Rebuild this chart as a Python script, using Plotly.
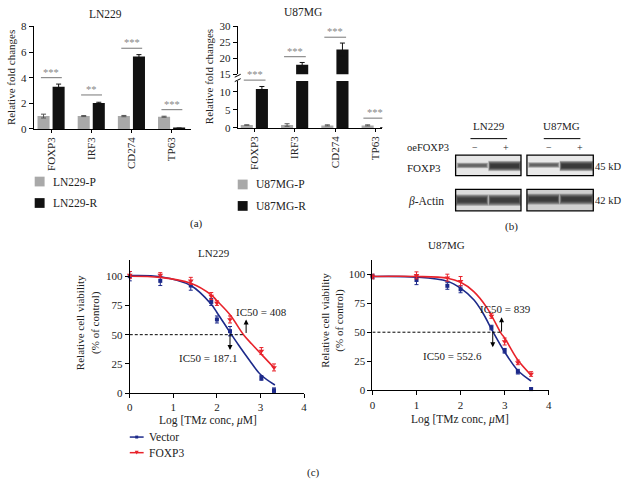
import plotly.graph_objects as go

W, H = 626, 485
FONT = "Liberation Serif"


def px(x):
    return x / W


def py(y):
    return 1 - y / H


# ---------------- Panel (a) data ----------------
genes = ["FOXP3", "IRF3", "CD274", "TP63"]
ln229_parental = [1.0, 1.0, 1.0, 0.95]
ln229_parental_err = [0.15, 0.04, 0.05, 0.04]
ln229_resistant = [3.3, 2.02, 5.65, 0.05]
ln229_resistant_err = [0.2, 0.06, 0.15, 0.02]
ln229_sig = ["***", "**", "***", "***"]
ln229_sig_y = [4.0, 2.65, 6.3, 1.5]

u87_parental = [0.8, 0.8, 0.7, 0.7]
u87_parental_err = [0.05, 0.35, 0.15, 0.15]
u87_resistant = [10.8, 18.0, 22.8, 0.0]
u87_resistant_err = [0.7, 0.7, 2.0, 0.0]
u87_sig = ["***", "***", "***", "***"]
u87_sig_px = [76, 52, 32, 115]

# ---------------- Panel (c) data ----------------
ln229_log_dose = [0, 0.7, 1.4, 1.87, 2.0, 2.3, 3.02, 3.31]
ln229_vector = [100, 96, 92, 78, 63, 53, 13, 2.5]
ln229_vector_err = [4, 4, 4, 3, 3, 4, 2, 2]
ln229_foxp3 = [101, 101, 96, 83, 77, 63, 36, 22]
ln229_foxp3_err = [3, 2, 3, 3, 2, 3, 3, 3]
ln229_vector_fit_x = [0, 0.7, 1.4, 1.87, 2.0, 2.3, 2.5, 2.75, 3.0, 3.33]
ln229_vector_fit = [100.5, 99.5, 92, 76, 69, 52, 41, 28, 16, 7]
ln229_foxp3_fit_x = [0, 0.7, 1.4, 1.87, 2.0, 2.3, 2.61, 2.8, 3.0, 3.33]
ln229_foxp3_fit = [100, 99, 94, 84, 79, 67, 50, 42, 34, 21]

u87_log_dose = [0, 1.0, 1.7, 2.0, 2.7, 3.0, 3.3, 3.6]
u87_vector = [98, 95, 90, 87, 54, 34, 16, 1]
u87_vector_err = [2, 4, 3, 3, 2, 2, 2, 1]
u87_foxp3 = [98, 99, 97, 94, 64, 42, 24, 14]
u87_foxp3_err = [2, 3, 3, 4, 2, 3, 2, 2]
u87_vector_fit_x = [0, 1.0, 1.7, 2.0, 2.3, 2.5, 2.74, 3.0, 3.3, 3.6]
u87_vector_fit = [98, 97.5, 94, 88, 78, 67, 50, 33, 17, 8]
u87_foxp3_fit_x = [0, 1.0, 1.7, 2.0, 2.3, 2.6, 2.92, 3.0, 3.3, 3.6]
u87_foxp3_fit = [98, 98, 96.5, 93, 85, 71, 49, 45, 26, 13]

GRAY = "#a9a9a9"
BLACK = "#111111"
BLUE = "#1d2a8a"
RED = "#e8232b"

fig = go.Figure()

# ---- bars LN229
fig.add_trace(go.Bar(x=genes, y=ln229_parental, xaxis="x", yaxis="y", width=0.3, offset=-0.345,
                     marker_color=GRAY, marker_line_width=0,
                     error_y=dict(type="data", array=ln229_parental_err, color="#555", thickness=1, width=2.5),
                     showlegend=False))
fig.add_trace(go.Bar(x=genes, y=ln229_resistant, xaxis="x", yaxis="y", width=0.3, offset=0.03,
                     marker_color=BLACK, marker_line_width=0,
                     error_y=dict(type="data", array=ln229_resistant_err, color=BLACK, thickness=1, width=2.5),
                     showlegend=False))

# ---- bars U87MG (broken axis: lower y2, upper y3)
for ax in ["y2", "y3"]:
    fig.add_trace(go.Bar(x=genes, y=u87_parental, xaxis="x2", yaxis=ax, width=0.3, offset=-0.345,
                         marker_color=GRAY, marker_line_width=0,
                         error_y=dict(type="data", array=u87_parental_err, color="#555", thickness=1, width=2.5),
                         showlegend=False))
    fig.add_trace(go.Bar(x=genes, y=u87_resistant, xaxis="x2", yaxis=ax, width=0.3, offset=0.03,
                         marker_color=BLACK, marker_line_width=0,
                         error_y=dict(type="data", array=u87_resistant_err, color=BLACK, thickness=1, width=2.5),
                         showlegend=False))


# ---- dose response
def add_curve(xa, ya, dose, vals, errs, fitx, fity, color, symbol, size):
    fig.add_trace(go.Scatter(x=fitx, y=fity, xaxis=xa, yaxis=ya, mode="lines",
                             line=dict(color=color, width=1.6, shape="spline", smoothing=1.0),
                             showlegend=False, cliponaxis=False))
    fig.add_trace(go.Scatter(x=dose, y=vals, xaxis=xa, yaxis=ya, mode="markers",
                             marker=dict(color=color, symbol=symbol, size=size),
                             error_y=dict(type="data", array=errs, color=color, thickness=1, width=2),
                             showlegend=False, cliponaxis=False))


add_curve("x3", "y4", ln229_log_dose, ln229_vector, ln229_vector_err, ln229_vector_fit_x, ln229_vector_fit, BLUE, "square", 4)
add_curve("x3", "y4", ln229_log_dose, ln229_foxp3, ln229_foxp3_err, ln229_foxp3_fit_x, ln229_foxp3_fit, RED, "triangle-down", 5)
add_curve("x4", "y5", u87_log_dose, u87_vector, u87_vector_err, u87_vector_fit_x, u87_vector_fit, BLUE, "square", 4)
add_curve("x4", "y5", u87_log_dose, u87_foxp3, u87_foxp3_err, u87_foxp3_fit_x, u87_foxp3_fit, RED, "triangle-down", 5)

axis_common = dict(showline=True, linecolor="black", linewidth=1.1, ticks="outside", ticklen=4,
                   tickcolor="black", tickwidth=1, showgrid=False, zeroline=False,
                   tickfont=dict(family=FONT, size=11, color="#222"))

layout = dict(
    width=W, height=H, margin=dict(l=0, r=0, t=0, b=0),
    paper_bgcolor="white", plot_bgcolor="rgba(0,0,0,0)",
    barmode="overlay", font=dict(family=FONT, color="#222"),
    showlegend=False,
    xaxis=dict(axis_common, domain=[px(31), px(190)], anchor="y", type="category",
               range=[-0.44, 3.48], tickangle=-90, ticklen=3),
    yaxis=dict(axis_common, domain=[py(126), py(21)], anchor="x", range=[0, 8], tickvals=[0, 2, 4, 6, 8]),
    xaxis2=dict(axis_common, domain=[px(237), px(383)], anchor="y2", type="category",
                range=[-0.42, 3.17], tickangle=-90, ticklen=3),
    yaxis2=dict(axis_common, domain=[py(125), py(77)], anchor="x2", range=[0, 13], tickvals=[0, 5, 10]),
    yaxis3=dict(axis_common, domain=[py(70), py(21)], anchor="x2", range=[15, 30], tickvals=[15, 20, 25, 30]),
    xaxis3=dict(axis_common, domain=[px(128), px(304)], anchor="y4", range=[0, 4], tickvals=[0, 1, 2, 3, 4]),
    yaxis4=dict(axis_common, domain=[py(397), py(260)], anchor="x3", range=[0, 114.2],
                tickvals=[0, 25, 50, 75, 100]),
    xaxis4=dict(axis_common, domain=[px(373), px(551)], anchor="y5", range=[0, 4], tickvals=[0, 1, 2, 3, 4]),
    yaxis5=dict(axis_common, domain=[py(394), py(260)], anchor="x4", range=[0, 112.6],
                tickvals=[0, 25, 50, 75, 100]),
)

shapes = []
annotations = []


def text(x, y, s, size=11, color="#222", angle=0, xanchor="center", xref="paper", yref="paper"):
    annotations.append(dict(x=x, y=y, xref=xref, yref=yref, text=s, showarrow=False,
                            font=dict(family=FONT, size=size, color=color), textangle=angle,
                            xanchor=xanchor, yanchor="middle", borderpad=0))


# ---- Panel (a) titles / labels
text(px(103), py(8), "LN229", 11.5)
text(px(303), py(6), "U87MG", 11.5)
text(px(8), py(73), "Relative fold changes", 11, angle=-90)
text(px(208), py(73), "Relative fold changes", 11, angle=-90)

# significance LN229
for i, (s, yv) in enumerate(zip(ln229_sig, ln229_sig_y)):
    shapes.append(dict(type="line", xref="x", yref="y", x0=i - 0.26, x1=i + 0.26, y0=yv, y1=yv,
                       line=dict(color="#777", width=1)))
    annotations.append(dict(x=i, y=yv, xref="x", yref="y", text=s, showarrow=False, yanchor="bottom",
                            yshift=-2, font=dict(family=FONT, size=10.5, color="#888")))
# significance U87MG (positions in pixels because of broken axis)
for i, (s, ypx) in enumerate(zip(u87_sig, u87_sig_px)):
    half = 0.3 if i == 3 else 0.27
    shapes.append(dict(type="line", xref="x2", yref="paper", x0=i - half, x1=i + half,
                       y0=py(ypx), y1=py(ypx), line=dict(color="#777", width=1)))
    annotations.append(dict(x=i, y=py(ypx), xref="x2", yref="paper", text=s, showarrow=False,
                            yanchor="bottom", yshift=-2, font=dict(family=FONT, size=10.5, color="#888")))
# axis break marks
for ypx in [71.5, 76]:
    shapes.append(dict(type="line", xref="paper", yref="paper", x0=px(234), x1=px(240),
                       y0=py(ypx + 1.5), y1=py(ypx - 1.5), line=dict(color="black", width=1)))

# legends panel (a)
for (x0, y0, col, lab) in [(32, 175, GRAY, "LN229-P"), (32, 197, BLACK, "LN229-R"),
                           (237, 178, GRAY, "U87MG-P"), (237, 200, BLACK, "U87MG-R")]:
    shapes.append(dict(type="rect", xref="paper", yref="paper", x0=px(x0), x1=px(x0 + 10),
                       y0=py(y0 + 10), y1=py(y0), fillcolor=col, line=dict(width=0)))
    text(px(x0 + 17), py(y0 + 5), lab, 11.5, xanchor="left")
text(px(195), py(223), "(a)", 11)

# ---- Panel (b) western blot
text(px(491), py(123), "LN229", 11)
text(px(564), py(123), "U87MG", 11)
shapes.append(dict(type="line", xref="paper", yref="paper", x0=px(472), x1=px(509), y0=py(136), y1=py(136),
                   line=dict(color="black", width=1)))
shapes.append(dict(type="line", xref="paper", yref="paper", x0=px(546), x1=px(583), y0=py(136), y1=py(136),
                   line=dict(color="black", width=1)))
text(px(407), py(145), "oeFOXP3", 10.5, xanchor="left")
for xx, s in [(477, "−"), (508, "+"), (551, "−"), (583, "+")]:
    text(px(xx), py(145), s, 10)
text(px(425), py(166), "FOXP3", 11)
text(px(427), py(200), "<i>β</i>-Actin", 11.5)
text(px(597), py(165), "45 kD", 10.5, xanchor="left")
text(px(597), py(199), "42 kD", 10.5, xanchor="left")
text(px(513), py(226), "(b)", 11)


def box(x0, x1, y0, y1, bg):
    shapes.append(dict(type="rect", xref="paper", yref="paper", x0=px(x0), x1=px(x1), y0=py(y1), y1=py(y0),
                       fillcolor=bg, line=dict(width=0), layer="below"))


def band(x0, x1, yc, h, dark):
    n = 9
    for k in range(n):
        f = 1 - k / n                 # from wide/faint to narrow/core
        hh = h * (0.25 + 0.95 * f)
        inset = 2.5 * (1 - f)
        a = 0.13 * dark
        shapes.append(dict(type="rect", xref="paper", yref="paper",
                           x0=px(x0 + inset), x1=px(x1 - inset), y0=py(yc + hh / 2), y1=py(yc - hh / 2),
                           fillcolor=f"rgba(25,25,25,{min(a, 1):.3f})", line=dict(width=0)))


def frame(x0, x1, y0, y1):
    shapes.append(dict(type="rect", xref="paper", yref="paper", x0=px(x0), x1=px(x1), y0=py(y1), y1=py(y0),
                       fillcolor="rgba(0,0,0,0)", line=dict(color="black", width=1.3)))


box(457, 523, 153, 174, "#e6e6e6")
box(529, 596, 153, 174, "#e9e9e9")
box(457, 523, 188, 210, "#dcdcdc")
box(529, 596, 188, 210, "#d0d0d0")
band(458, 490, 163.5, 5.0, 0.75)
band(490, 523, 164, 9.0, 1.35)
band(530, 562, 163, 5.0, 0.8)
band(562, 596, 164, 9.0, 1.45)
band(457, 490, 199, 10.0, 1.25)
band(490, 523, 199, 10.0, 1.25)
band(529, 562, 198, 9.5, 1.25)
band(562, 596, 198, 9.5, 1.25)
frame(457, 523, 153, 174)
frame(529, 596, 153, 174)
frame(457, 523, 188, 210)
frame(529, 596, 188, 210)

# ---- Panel (c)
text(px(213), py(253), "LN229", 11)
text(px(448), py(245), "U87MG", 11)
text(px(207), py(425), "Log [TMz conc, <i>μ</i>M]", 11.5)
text(px(461), py(424), "Log [TMz conc, <i>μ</i>M]", 11.5)
for xx, yc in [(86, 325), (332, 322)]:
    text(px(xx), py(yc), "Relative cell viability<br>(% of control)", 11, angle=-90)

# dashed IC50 lines
shapes.append(dict(type="line", xref="x3", yref="y4", x0=0, x1=2.61, y0=50, y1=50,
                   line=dict(color="black", width=1, dash="3px,2px")))
shapes.append(dict(type="line", xref="x4", yref="y5", x0=0, x1=2.9, y0=50, y1=50,
                   line=dict(color="black", width=1, dash="3px,2px")))


def arrow(xr, yr, x, y, ay):
    annotations.append(dict(x=x, y=y, xref=xr, yref=yr, ax=0, ay=ay, text="", showarrow=True,
                            arrowhead=2, arrowsize=1, arrowwidth=1, arrowcolor="black"))


arrow("x3", "y4", 2.3, 37, -17)
arrow("x3", "y4", 2.67, 63, 15)
arrow("x4", "y5", 2.73, 37, -17)
arrow("x4", "y5", 2.93, 63, 16)
text(px(261), py(314), "IC50 = 408", 11)
text(px(207), py(361), "IC50 = 187.1", 11)
text(px(507), py(311), "IC50 = 839", 11)
text(px(454), py(359), "IC50 = 552.6", 11)

# legend panel (c)
for yc, col, lab, sym in [(442, BLUE, "Vector", "sq"), (458, RED, "FOXP3", "tri")]:
    shapes.append(dict(type="line", xref="paper", yref="paper", x0=px(128), x1=px(142), y0=py(yc), y1=py(yc),
                       line=dict(color=col, width=1.5)))
    if sym == "sq":
        shapes.append(dict(type="rect", xref="paper", yref="paper", x0=px(133.5), x1=px(136.5),
                           y0=py(yc + 1.5), y1=py(yc - 1.5), fillcolor=col, line=dict(width=0)))
    else:
        shapes.append(dict(type="path", xref="paper", yref="paper",
                           path=f"M {px(133)},{py(yc - 2)} L {px(137)},{py(yc - 2)} L {px(135)},{py(yc + 2)} Z",
                           fillcolor=col, line=dict(width=0)))
    text(px(146), py(yc), lab, 11.5, xanchor="left")
text(px(313), py(478), "(c)", 11)

layout["shapes"] = shapes
layout["annotations"] = annotations
fig.update_layout(**layout)
fig.write_html("out.html", config={"displayModeBar": False},
               post_script="document.body.style.margin='0';document.body.style.overflow='hidden';")
